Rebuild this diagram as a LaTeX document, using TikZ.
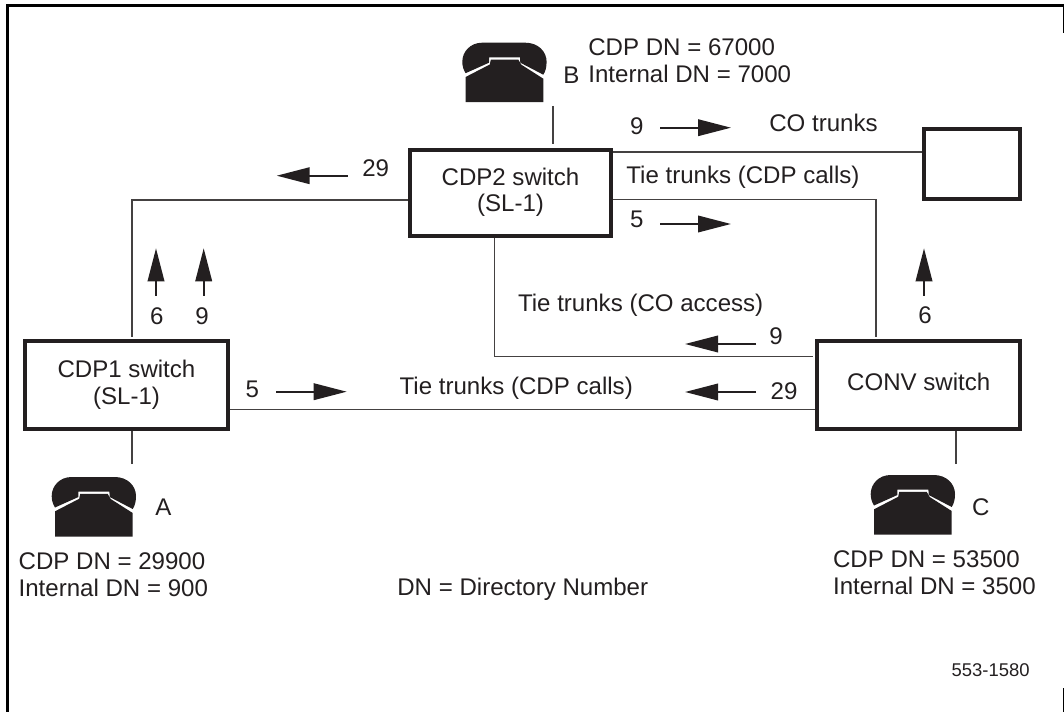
\documentclass[tikz,border=0pt]{standalone}
\usepackage{fontspec}
\setmainfont{Liberation Sans}
\usepackage{tikz}
\usetikzlibrary{arrows.meta}
\definecolor{ink}{HTML}{231F20}
\newcommand{\labfont}{\fontsize{13.7}{15.2}\selectfont}
\newcommand{\tagfont}{\fontsize{10.5}{12}\selectfont}
\tikzset{
	lab/.style={font=\labfont,text=ink,inner sep=0pt},
	swbox/.style={draw=ink,line width=0.08cm,font=\labfont,text=ink,align=center,inner sep=0pt,text depth=0.12cm},
	trunk/.style={draw=ink!85,line width=0.026cm},
	flow/.style={draw=ink,line width=0.04cm,-{Triangle[length=0.66cm,width=0.33cm]}},
	phone/.pic={
		\fill[ink] (20,0) -- (63,0) .. controls (76,0) and (84.3,9) .. (84.3,19) .. controls (84.3,25) and (83,29) .. (81,32) -- (58,20) -- (57.7,14.6) -- (26.7,14.6) -- (26.7,20) -- (3.3,30.5) .. controls (1,27) and (0,23) .. (0,19) .. controls (0,9) and (8,0) .. (20,0) -- cycle;
		\fill[ink] (3.3,34.3) -- (27.5,21.8) -- (28.5,16.9) -- (56,16.9) -- (59,22) -- (81,36) -- (81,59.5) -- (3.3,59.5) -- cycle;
	}
}
\begin{document}
\begin{tikzpicture}[x=0.02cm,y=-0.02cm]
	\useasboundingbox (0,0) rectangle (1064,712);
	
	\draw [line width=0.066cm,black] (7.6,712) -- (7.6,5.6) -- (1064,5.6);
	\draw [line width=0.024cm,black] (1063.4,4) -- (1063.4,33);
	\draw [line width=0.024cm,black] (1063.4,688) -- (1063.4,712);
	
	\node[swbox,minimum width=4.04cm,minimum height=1.73cm] (sw2) at (510.5,192.8) {CDP2 switch\\(SL-1)};
	\node[swbox,minimum width=4.06cm,minimum height=1.75cm] (sw1) at (126.5,385) {CDP1 switch\\(SL-1)};
	\node[swbox,minimum width=4.05cm,minimum height=1.76cm] (conv) at (918.7,385) {CONV switch};
	\node[swbox,minimum width=1.92cm,minimum height=1.42cm] (co) at (972,164) {};
	
	\pic at (462.3,42.7) {phone};
	\pic at (51.7,477) {phone};
	\pic at (870.7,475) {phone};
	
	\coordinate (stemB) at (553,106);
	\coordinate (stemBend) at (553,144);
	\coordinate (stemA) at (132,464);
	\coordinate (stemC) at (956,464);
	\coordinate (left1) at (132,337);
	\coordinate (left2) at (132,200);
	\coordinate (right1) at (876,337);
	\coordinate (right2) at (876,199.5);
	\coordinate (acc1) at (494.7,356.7);
	\coordinate (acc2) at (812.7,356.7);
	\coordinate (lower) at (132,409.5);
	\coordinate (upper) at (700,152);
	
	\draw [trunk] (stemB) -- (stemBend);
	\draw [trunk] (stemA) -- (stemA |- sw1.south);
	\draw [trunk] (stemC) -- (stemC |- conv.south);
	\draw [trunk] (left1) -- (left2) -- (left2 -| sw2.west);
	\draw [trunk] (right1) -- (right2) -- (right2 -| sw2.east);
	\draw [trunk] (acc2) -- (acc1) -- (acc1 |- sw2.south);
	\draw [trunk] (lower -| sw1.east) -- (lower -| conv.west);
	\draw [trunk] (upper -| sw2.east) -- (upper -| co.west);
	
	\coordinate (F1a) at (660,127.7);
	\coordinate (F1b) at (731,127.7);
	\coordinate (F2a) at (660,224);
	\coordinate (F2b) at (731,224);
	\coordinate (F3a) at (347.7,175.7);
	\coordinate (F3b) at (276.7,175.7);
	\coordinate (F4a) at (156,295.7);
	\coordinate (F4b) at (156,248.3);
	\coordinate (F5a) at (203.7,295.7);
	\coordinate (F5b) at (203.7,248.3);
	\coordinate (F6a) at (924,295.7);
	\coordinate (F6b) at (924,248.3);
	\coordinate (F7a) at (756,344);
	\coordinate (F7b) at (685,344);
	\coordinate (F8a) at (756,392);
	\coordinate (F8b) at (685,392);
	\coordinate (F9a) at (276,391.7);
	\coordinate (F9b) at (346.7,391.7);
	
	\draw [flow] (F1a) -- (F1b);
	\draw [flow] (F2a) -- (F2b);
	\draw [flow] (F3a) -- (F3b);
	\draw [flow] (F4a) -- (F4b);
	\draw [flow] (F5a) -- (F5b);
	\draw [flow] (F6a) -- (F6b);
	\draw [flow] (F7a) -- (F7b);
	\draw [flow] (F8a) -- (F8b);
	\draw [flow] (F9a) -- (F9b);
	
	\node[lab,anchor=base] (n9a) at (636.7,135) {9};
	\node[lab,anchor=base] (n5a) at (636.7,227.7) {5};
	\node[lab,anchor=base] (n29a) at (375.7,176.7) {29};
	\node[lab,anchor=base] (n6a) at (156.7,325) {6};
	\node[lab,anchor=base] (n9b) at (202,325) {9};
	\node[lab,anchor=base] (n6b) at (925,324) {6};
	\node[lab,anchor=base] (n9c) at (776,345) {9};
	\node[lab,anchor=base] (n29b) at (784,399) {29};
	\node[lab,anchor=base] (n5b) at (252.3,398) {5};
	
	\node[lab,anchor=base west] (cot) at (769,132) {CO trunks};
	\node[lab,anchor=base west] (tie1) at (626,184) {Tie trunks (CDP calls)};
	\node[lab,anchor=base west] (tie2) at (517.7,312) {Tie trunks (CO access)};
	\node[lab,anchor=base west] (tie3) at (399.3,395) {Tie trunks (CDP calls)};
	
	\node[lab,anchor=base west] (labB) at (563,83.3) {B};
	\node[lab,anchor=base west] (labA) at (155,515) {A};
	\node[lab,anchor=base west] (labC) at (971.7,515) {C};
	
	\node[lab,anchor=west,align=left] (dnB) at (588,60.5) {CDP DN = 67000\\Internal DN = 7000};
	\node[lab,anchor=west,align=left] (dnA) at (18.3,575) {CDP DN = 29900\\Internal DN = 900};
	\node[lab,anchor=west,align=left] (dnC) at (832.7,573) {CDP DN = 53500\\Internal DN = 3500};
	
	\node[lab,anchor=base west] (dnkey) at (397,595) {DN = Directory Number};
	\node[lab,font=\tagfont,anchor=base west] (fig) at (951.3,676) {553-1580};
\end{tikzpicture}
\end{document}
